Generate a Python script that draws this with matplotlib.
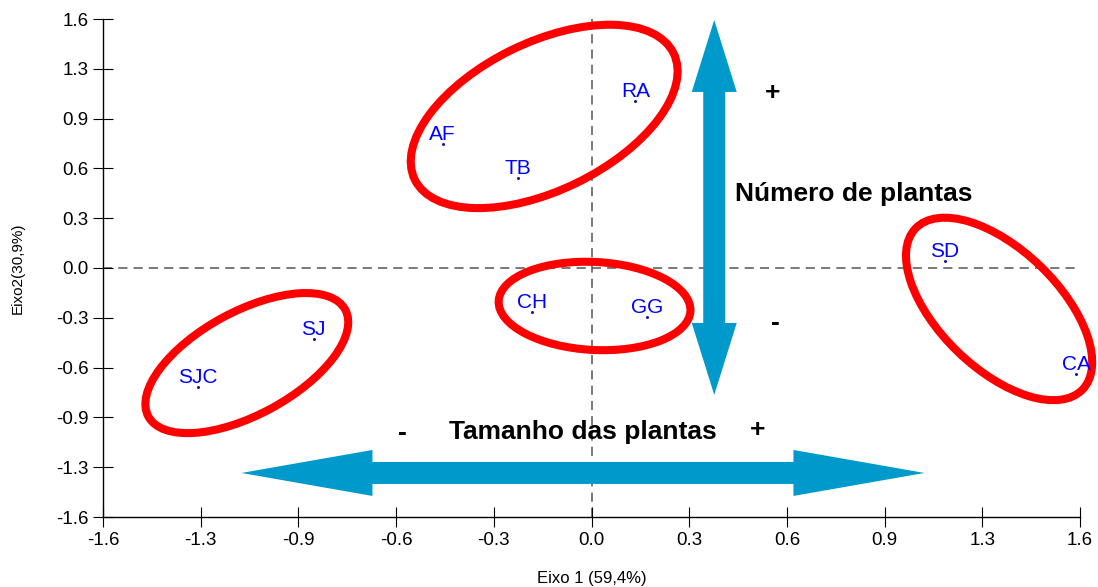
import matplotlib
matplotlib.use("Agg")
import matplotlib.pyplot as plt
from matplotlib.patches import Ellipse, Polygon
from matplotlib.transforms import ScaledTranslation
import numpy as np

plt.rcParams['font.family'] = ['Liberation Sans', 'DejaVu Sans']

# ---- data ----
labels = ["RA", "AF", "TB", "CH", "GG", "SJ", "SJC", "SD", "CA"]
eixo1 = [0.144, -0.488, -0.242, -0.196, 0.183, -0.910, -1.289, 1.158, 1.587]
eixo2 = [1.073, 0.797, 0.578, -0.283, -0.315, -0.456, -0.765, 0.045, -0.681]
tick_vals = [-1.6, -1.28, -0.96, -0.64, -0.32, 0.0, 0.32, 0.64, 0.96, 1.28, 1.6]
xtick_labels = ["-1.6", "-1.3", "-0.9", "-0.6", "-0.3", "0.0", "0.3", "0.6", "0.9", "1.3", "1.6"]
ytick_labels = ["-1.6", "-1.3", "-0.9", "-0.6", "-0.3", "0.0", "0.3", "0.6", "0.9", "1.3", "1.6"]

fig = plt.figure(figsize=(10.98, 5.87), dpi=100)
ax = fig.add_axes([103/1098, 1-517/587, (1080-103)/1098, (517-19)/587])
ax.set_xlim(-1.6, 1.6)
ax.set_ylim(-1.6, 1.6)

for s in ["top", "right"]:
    ax.spines[s].set_visible(False)
for s in ["left", "bottom"]:
    ax.spines[s].set_linewidth(1.0)

ax.set_xticks(tick_vals)
ax.set_xticklabels(xtick_labels)
ax.set_yticks(tick_vals)
ax.set_yticklabels(ytick_labels)
ax.tick_params(axis='both', direction='inout', length=15, width=0.8, labelsize=13.5, pad=3)

ax.axhline(0, color='#555555', lw=1.1, ls=(0, (6, 4)), zorder=1)
ax.axvline(0, color='#555555', lw=1.1, ls=(0, (6, 4)), zorder=1)

ax.set_xlabel("Eixo 1 (59,4%)", fontsize=12, labelpad=16)
ax.set_ylabel("Eixo2(30,9%)", fontsize=11, labelpad=22)

# points and labels
ax.plot(eixo1, eixo2, linestyle='none', marker='o', markersize=1.2, color='#1a1a99', zorder=4)
for lab, x, y in zip(labels, eixo1, eixo2):
    ax.annotate(lab, (x, y), xytext=(0, 3), textcoords='offset points',
                ha='center', va='baseline', color='#0000ff', fontsize=15, zorder=5,
                annotation_clip=False)

def anchored(cx, cy):
    return fig.dpi_scale_trans + ScaledTranslation(cx, cy, ax.transData)

# ellipses: (center x, center y) in data, width/height in inches, angle in degrees
ellipses = [
    (-0.155, 0.974, 2.88, 1.48, 26),
    (0.010, -0.244, 1.92, 0.88, -3),
    (-1.129, -0.611, 2.24, 1.03, 28.5),
    (1.335, -0.263, 2.32, 1.19, -44),
]
for cx, cy, w, h, ang in ellipses:
    e = Ellipse((0, 0), w, h, angle=ang, transform=anchored(cx, cy),
                fill=False, edgecolor='#ff0000', linewidth=5.8, zorder=3, clip_on=False)
    ax.add_patch(e)

def double_arrow(half_len, head_len, head_hw, shaft_hw, vertical):
    b = half_len - head_len
    pts = [(half_len, 0), (b, head_hw), (b, shaft_hw), (-b, shaft_hw), (-b, head_hw),
           (-half_len, 0), (-b, -head_hw), (-b, -shaft_hw), (b, -shaft_hw), (b, -head_hw)]
    pts = np.array(pts)
    if vertical:
        pts = pts[:, ::-1]
    return pts

blue = '#0099cc'
va_pts = double_arrow(1.875, 0.72, 0.225, 0.11, True)
ax.add_patch(Polygon(va_pts, closed=True, facecolor=blue, edgecolor='none',
                     transform=anchored(0.402, 0.389), zorder=2, clip_on=False))
ha_pts = double_arrow(3.415, 1.31, 0.23, 0.11, False)
ax.add_patch(Polygon(ha_pts, closed=True, facecolor=blue, edgecolor='none',
                     transform=anchored(-0.028, -1.317), zorder=2, clip_on=False))

# annotations
bold = dict(fontsize=19, fontweight='bold', color='black', ha='center', va='center', zorder=6)
ax.text(0.592, 1.125, "+", **bold)
ax.text(0.602, -0.353, "-", **bold)
ax.text(0.859, 0.476, "Número de plantas", **bold)
ax.text(-0.618, -1.061, "-", **bold)
ax.text(-0.029, -1.054, "Tamanho das plantas", **bold)
ax.text(0.543, -1.041, "+", **bold)

fig.savefig("out.png", dpi=100)
